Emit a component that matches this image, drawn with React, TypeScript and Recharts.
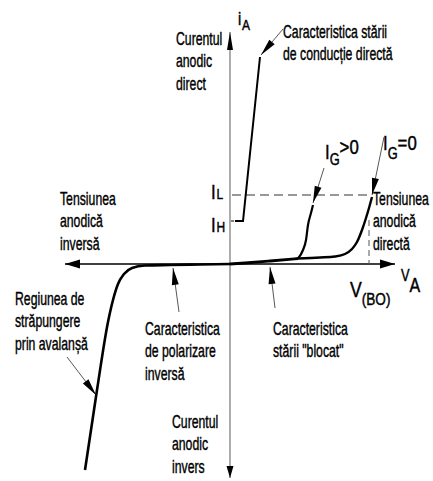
import React from "react";
import { ComposedChart, Line, Scatter, XAxis, YAxis, ReferenceLine } from "recharts";

const WIDTH = 433;
const HEIGHT = 481;
const FONT = "'Liberation Sans', Arial, sans-serif";
const SCALE_X = 0.7;
const SYMBOL_SCALE_X = 0.8;

// ---- characteristic curves (x: anode voltage, y: anode current, arbitrary units) ----
const reverseCurve = [
  { x: -14.5, y: -20.6 },
  { x: -13.3, y: -12.6 },
  { x: -12.2, y: -5.8 },
  { x: -11.7, y: -3.6 },
  { x: -11.2, y: -2.0 },
  { x: -10.6, y: -1.0 },
  { x: -9.8, y: -0.4 },
  { x: -8.5, y: -0.15 },
  { x: -6.0, y: -0.1 },
  { x: -3.0, y: -0.05 },
  { x: 0, y: 0 },
];

const blockingCurve = [
  { x: 0, y: 0 },
  { x: 1.5, y: 0.1 },
  { x: 4.0, y: 0.3 },
  { x: 6.8, y: 0.55 },
];

const gateOnCurve = [
  { x: 6.8, y: 0.55 },
  { x: 7.3, y: 1.4 },
  { x: 7.6, y: 2.4 },
  { x: 7.8, y: 3.9 },
  { x: 8.1, y: 5.1 },
  { x: 8.3, y: 5.9 },
];

const gateOffCurve = [
  { x: 6.8, y: 0.55 },
  { x: 9.0, y: 0.65 },
  { x: 10.5, y: 0.75 },
  { x: 11.5, y: 1.0 },
  { x: 12.2, y: 1.5 },
  { x: 12.7, y: 2.2 },
  { x: 13.2, y: 3.4 },
  { x: 13.6, y: 4.6 },
  { x: 13.9, y: 5.6 },
  { x: 14.2, y: 6.7 },
];

const conductionCurve = [
  { x: 0.5, y: 4.3 },
  { x: 1.3, y: 4.3 },
  { x: 3.0, y: 20.7 },
];

// ---- characteristic current / voltage levels ----
const latchingCurrent = 6.9; // I_L
const holdingCurrent = 4.3; // I_H
const breakoverVoltage = 13.9; // V_(BO)
const latchingLineEnd = 14.2;

// ---- axes extents ----
const axisX = { left: -16.5, right: 16.5 };
const axisY = { top: 23.2, bottom: -21.4 };

// ---- annotation pointers (label -> curve) ----
const pointers = [
  { from: { x: 5.3, y: 23.5 }, to: { x: 3.1, y: 20.9 } },
  { from: { x: 9.4, y: 9.6 }, to: { x: 8.3, y: 6.1 } },
  { from: { x: 15.4, y: 12.7 }, to: { x: 14.2, y: 6.9 } },
  { from: { x: 4.5, y: -4.4 }, to: { x: 4.0, y: -0.3 } },
  { from: { x: -5.1, y: -4.8 }, to: { x: -5.7, y: -0.4 } },
  { from: { x: -16.3, y: -9.3 }, to: { x: -13.4, y: -13.1 } },
];

// ---- multi-line text blocks ----
const textBlocks = [
  { x: -5.4, y: 21.9, lines: ["Curentul", "anodic", "direct"] },
  { x: 5.3, y: 22.6, lines: ["Caracteristica stării", "de conducție directă"] },
  { x: -17.0, y: 5.9, lines: ["Tensiunea", "anodică", "inversă"] },
  { x: 14.3, y: 5.9, lines: ["Tensiunea", "anodică", "directă"] },
  { x: -21.5, y: -4.1, lines: ["Regiunea de", "străpungere", "prin avalanșă"] },
  { x: -8.5, y: -7.1, lines: ["Caracteristica", "de polarizare", "inversă"] },
  { x: 4.3, y: -7.1, lines: ["Caracteristica", "stării \"blocat\""] },
  { x: -5.8, y: -16.4, lines: ["Curentul", "anodic", "invers"] },
];

// ---- symbols with subscripts ----
const symbols = [
  { x: 0.8, y: 23.9, main: "i", sub: "A", tail: "", kind: "iA" },
  { x: 9.5, y: 10.5, main: "I", sub: "G", tail: ">0", kind: "ig1" },
  { x: 15.3, y: 11.4, main: "I", sub: "G", tail: "=0", kind: "ig0" },
  { x: -1.9, y: 6.5, main: "I", sub: "L", tail: "", kind: "il" },
  { x: -1.9, y: 3.2, main: "I", sub: "H", tail: "", kind: "ih" },
  { x: 17.1, y: -1.7, main: "V", sub: "A", tail: "", kind: "va" },
  { x: 12.0, y: -3.3, main: "V", sub: "(BO)", tail: "", kind: "vbo" },
];

// font sizes and baseline offsets (tailDy measured from the main baseline)
const symbolStyles: Record<string, any> = {
  iA: { main: 18, sub: 15, subDy: 5, subDx: 1, tail: 0, tailDy: 0 },
  ig1: { main: 21, sub: 16, subDy: 6, subDx: 0, tail: 21, tailDy: -5 },
  ig0: { main: 21, sub: 16, subDy: 9, subDx: 0, tail: 21, tailDy: 0 },
  il: { main: 21, sub: 15, subDy: 0, subDx: 1, tail: 0, tailDy: 0 },
  ih: { main: 21, sub: 15, subDy: 0, subDx: 1, tail: 0, tailDy: 0 },
  va: { main: 16, sub: 20, subDy: 11, subDx: 0, tail: 0, tailDy: 0 },
  vbo: { main: 22, sub: 17, subDy: 8, subDx: 0, tail: 0, tailDy: 0 },
};

// arrowheads: tip point plus a point behind it giving the direction
const axisArrows = [
  { x: 0, y: axisY.top, fx: 0, fy: 0, kind: "axisV" },
  { x: 0, y: axisY.bottom, fx: 0, fy: 0, kind: "axisVb" },
  { x: axisX.left, y: 0, fx: 0, fy: 0, kind: "axisH" },
  { x: axisX.right, y: 0, fx: 0, fy: 0, kind: "axisH" },
];

const arrowSizes: Record<string, { len: number; wid: number }> = {
  axisV: { len: 18, wid: 6 },
  axisVb: { len: 12, wid: 7 },
  axisH: { len: 15, wid: 9 },
  pointer: { len: 17, wid: 7 },
};

const arrowTips = [
  ...axisArrows,
  ...pointers.map((p) => ({ x: p.to.x, y: p.to.y, fx: p.from.x, fy: p.from.y, kind: "pointer" })),
];

function renderArrow(props: any) {
  const { cx, cy, payload } = props;
  if (cx == null || cy == null) return <g />;
  const size = arrowSizes[payload.kind];
  const sdx = payload.x - payload.fx;
  const sdy = -(payload.y - payload.fy);
  const deg = (Math.atan2(sdy, sdx) * 180) / Math.PI;
  return (
    <polygon
      points={`0,0 ${-size.len},${-size.wid / 2} ${-size.len},${size.wid / 2}`}
      transform={`translate(${cx},${cy}) rotate(${deg})`}
      fill="#000"
    />
  );
}

function renderTextBlock(props: any) {
  const { cx, cy, payload } = props;
  if (cx == null || cy == null) return <g />;
  return (
    <g transform={`translate(${cx},${cy}) scale(${SCALE_X},1)`}>
      <text x={0} y={0} fontFamily={FONT} fontSize={17.5} fill="#000" stroke="#000" strokeWidth={0.4}>
        {payload.lines.map((line: string, i: number) => (
          <tspan key={i} x={0} dy={i === 0 ? 0 : 22.5}>
            {line}
          </tspan>
        ))}
      </text>
    </g>
  );
}

function renderSymbol(props: any) {
  const { cx, cy, payload } = props;
  if (cx == null || cy == null) return <g />;
  const st = symbolStyles[payload.kind];
  return (
    <g transform={`translate(${cx},${cy}) scale(${SYMBOL_SCALE_X},1)`}>
      <text x={0} y={0} fontFamily={FONT} fill="#000" stroke="#000" strokeWidth={0.45}>
        <tspan fontSize={st.main}>{payload.main}</tspan>
        <tspan fontSize={st.sub} dx={st.subDx} dy={st.subDy}>
          {payload.sub}
        </tspan>
        {payload.tail ? (
          <tspan fontSize={st.tail} dy={st.tailDy - st.subDy}>
            {payload.tail}
          </tspan>
        ) : null}
      </text>
    </g>
  );
}

export default function App() {
  return (
    <div style={{ position: "absolute", left: 0, top: 0, width: WIDTH, height: HEIGHT, background: "#fff" }}>
      <ComposedChart
        width={WIDTH}
        height={HEIGHT}
        margin={{ top: 4, right: 3, bottom: 2, left: 10 }}
      >
        <XAxis type="number" dataKey="x" domain={[-22, 20]} hide allowDataOverflow />
        <YAxis type="number" dataKey="y" domain={[-21.5, 26]} hide allowDataOverflow />

        {/* axes */}
        <ReferenceLine
          segment={[{ x: 0, y: axisY.bottom }, { x: 0, y: axisY.top }]}
          stroke="#808080"
          strokeWidth={1.3}
        />
        <ReferenceLine
          segment={[{ x: axisX.left, y: 0 }, { x: axisX.right, y: 0 }]}
          stroke="#000"
          strokeWidth={1.6}
        />

        {/* I_L, I_H and V_(BO) guides */}
        <ReferenceLine
          segment={[{ x: 0.2, y: latchingCurrent }, { x: latchingLineEnd, y: latchingCurrent }]}
          stroke="#333"
          strokeWidth={1.2}
          strokeDasharray="9 5"
        />
        <ReferenceLine
          segment={[{ x: 0.1, y: holdingCurrent }, { x: 0.5, y: holdingCurrent }]}
          stroke="#333"
          strokeWidth={1.2}
          strokeDasharray="3 2"
        />
        <ReferenceLine
          segment={[{ x: breakoverVoltage, y: 4.4 }, { x: breakoverVoltage, y: 0 }]}
          stroke="#555"
          strokeWidth={1}
          strokeDasharray="6 4"
        />

        {/* pointer lines */}
        {pointers.map((p, i) => (
          <ReferenceLine key={i} segment={[p.from, p.to]} stroke="#444" strokeWidth={0.9} />
        ))}

        {/* curves */}
        <Line data={reverseCurve} dataKey="y" type="monotone" stroke="#000" strokeWidth={2.6} dot={false} isAnimationActive={false} />
        <Line data={blockingCurve} dataKey="y" type="monotone" stroke="#000" strokeWidth={2.8} dot={false} isAnimationActive={false} />
        <Line data={gateOnCurve} dataKey="y" type="monotone" stroke="#000" strokeWidth={2.2} dot={false} isAnimationActive={false} />
        <Line data={gateOffCurve} dataKey="y" type="monotone" stroke="#000" strokeWidth={2.4} dot={false} isAnimationActive={false} />
        <Line data={conductionCurve} dataKey="y" type="linear" stroke="#000" strokeWidth={2} dot={false} isAnimationActive={false} />

        {/* arrowheads */}
        <Scatter data={arrowTips} shape={renderArrow} isAnimationActive={false} />

        {/* labels */}
        <Scatter data={textBlocks} shape={renderTextBlock} isAnimationActive={false} />
        <Scatter data={symbols} shape={renderSymbol} isAnimationActive={false} />
      </ComposedChart>
    </div>
  );
}
